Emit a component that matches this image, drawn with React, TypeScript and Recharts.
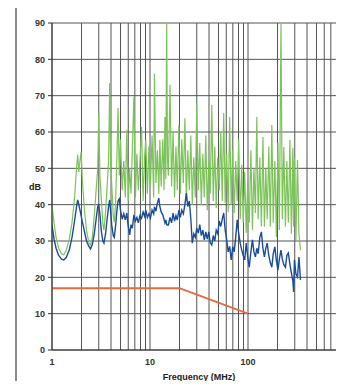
import { CartesianGrid, Line, LineChart, XAxis, YAxis } from "recharts"

// frequency points shared by both measured traces (MHz)
const freqMHz = [
  1.0, 1.05, 1.1, 1.17, 1.25, 1.32, 1.4, 1.5, 1.6, 1.7,
  1.78, 1.83, 1.88, 1.93, 1.98, 2.05, 2.15, 2.25, 2.38, 2.47,
  2.58, 2.7, 2.82, 2.93, 3.0, 3.08, 3.18, 3.3, 3.39, 3.52,
  3.65, 3.78, 3.88, 3.97, 4.08, 4.22, 4.32, 4.45, 4.58, 4.72, 4.86,
  5.0, 5.2, 5.4, 5.6, 5.8, 6.0, 6.2, 6.4, 6.6, 6.85,
  7.1, 7.35, 7.6, 7.9, 8.2, 8.5, 8.8, 9.05, 9.4, 9.75,
  10.1, 10.5, 10.9, 11.1, 11.5, 11.9, 12.3, 12.6, 13.0, 13.5,
  13.9, 14.2, 14.5, 14.8, 15.1,
  15.4, 16.0, 16.6, 17.2, 17.8, 18.4, 19.0, 19.7, 20.4, 21.1,
  21.9, 22.7, 23.5, 24.3, 25.2, 26.1, 27.0, 28.0, 29.0, 30.0,
  31.1, 32.2, 33.4, 34.6, 35.8, 37.1, 38.4, 39.8, 41.2, 42.7,
  44.2, 45.8, 47.4, 49.1, 50.9, 52.7, 54.6, 56.5, 58.5, 60.6,
  62.8, 65.0, 67.4, 69.8, 72.3, 74.9, 77.6, 80.4, 83.3, 86.3,
  89.4, 92.6, 95.9, 99.3,
  103, 107, 111, 115, 119, 123, 127, 132, 137, 142,
  147, 152, 157, 163, 169, 175, 181, 188, 195, 202,
  209, 217, 224, 232, 241, 249, 258, 268, 277, 287,
  292, 298, 308, 320, 331, 343,
]

const greenDb = [
  39.9, 35, 31, 28, 26.5, 26.2, 27.5, 30.5, 35, 42,
  50, 53.7, 49, 52, 54.5, 46, 38, 33, 29.5, 28.9,
  31, 37, 44, 50, 65.2, 48, 42, 35, 33, 38,
  45, 52, 73.5, 50, 45, 37, 35.2, 40, 52, 66.6, 48,
  58, 44, 52, 42, 60.6, 41, 50, 43, 55, 69.6,
  42, 54, 44, 52, 61.4, 41, 53, 57.8, 43, 56,
  45, 59, 42, 76, 46, 55, 43, 57.8, 45, 58,
  44, 64.1, 47, 90, 52,
  48, 73, 45, 60, 42, 56, 44, 62, 43, 58,
  46, 63.8, 41, 55, 44, 59, 40, 53, 42, 68,
  44, 57, 40, 54, 42, 59, 38.5, 52, 43, 67.4,
  41, 56, 39, 53, 44, 60, 41, 65.2, 40.5, 54,
  38, 64.1, 40, 55, 37.7, 52, 41, 58, 36, 51,
  35, 49, 32.2, 46,
  35, 55, 33, 50, 37.7, 64.1, 36, 53, 34, 58.6,
  33.9, 50, 36, 56, 34, 61.9, 35, 52, 31.1, 57,
  33, 90, 36, 55.9, 33.9, 52, 35, 57.8, 32, 55.6,
  34, 53, 30.3, 52.3, 32, 27.5,
]

const blueDb = [
  34.4, 30.5, 28, 26, 25, 24.8, 25.5, 27.5, 31, 35.5,
  39.5, 41.3, 40, 38.5, 37, 35, 32.5, 30, 28.5, 27.8,
  29, 32, 36, 39.5, 39.9, 37.5, 33, 30, 29.4, 32,
  36, 39.5, 41.3, 38, 34, 31.5, 31, 34, 38, 41, 41.6,
  38.5, 36, 37.5, 35.8, 37.7, 34, 31.7, 34.5, 33.5, 37.2,
  35.5, 36.5, 35, 37, 36.3, 38, 36.8, 38.5, 36.5, 37.5,
  36.3, 38.5, 37.5, 39.4, 38.2, 40.5, 41.8, 39.5, 38, 37.2,
  36, 35, 35.8, 34.5, 34.4,
  34.4, 36.5, 35, 37.7, 35.5, 37, 35.8, 38.5, 36.5, 38.5,
  37.5, 40, 43.2, 39.5, 41, 36, 29.4, 32, 31, 33.5,
  32.2, 34.5, 31.5, 33, 30.3, 32.5, 30.5, 32.5, 29.5, 28.9,
  31.5, 30, 33, 32, 35.5, 34, 36, 37.7, 33, 30.3,
  27, 28.5, 24.8, 28.4, 27, 31, 35.8, 32, 29.4, 27.5,
  26, 24.8, 29.4, 25.6,
  22.8, 27, 30.3, 27, 25.6, 28, 26.5, 31, 32.5, 28,
  25.6, 28, 29.4, 26, 24, 22.8, 26.5, 28.4, 24.5, 22,
  25, 27.5, 25, 23.5, 22.8, 26, 26.7, 23.5, 21.2, 19,
  16, 24.8, 21, 20.1, 25.6, 19.3,
]

// limit line corners
const limitFreqMHz = [1, 20, 100]
const limitDb = [17, 17, 10]

const gridFreqTicks = [
  1, 2, 3, 4, 5, 6, 7, 8, 9,
  10, 20, 30, 40, 50, 60, 70, 80, 90,
  100, 200, 300, 400, 500, 600, 700, 800, 900, 1000,
]
const labelledFreqs = [1, 10, 100, 1000]
const dbTicks = [0, 10, 20, 30, 40, 50, 60, 70, 80, 90]

const traceRows = freqMHz.map((f, i) => ({ f, green: greenDb[i], blue: blueDb[i] }))
const limitRows = limitFreqMHz.map((f, i) => ({ f, limit: limitDb[i] }))

const font = "'Liberation Sans', Arial, sans-serif"

export default function App() {
  return (
    <div
      style={{
        position: "relative",
        margin: -8,
        width: 344,
        height: 389,
        overflow: "hidden",
        background: "#fff",
        fontFamily: font,
      }}
    >
      <div
        style={{
          position: "absolute",
          left: 15,
          top: 3,
          width: 400,
          height: 440,
          border: "2px solid #8c8c8c",
        }}
      />
      <div style={{ position: "absolute", left: 0, top: 0 }}>
        <LineChart
          width={400}
          height={389}
          data={traceRows}
          margin={{ top: 23, right: 54, left: 12, bottom: 3 }}
        >
          <CartesianGrid stroke="#555" strokeWidth={1} />
          <XAxis
            dataKey="f"
            type="number"
            scale="log"
            domain={[1, 1000]}
            allowDataOverflow
            ticks={gridFreqTicks}
            interval={0}
            tickFormatter={(v) => (labelledFreqs.includes(v) ? String(v) : "")}
            height={36}
            axisLine={{ stroke: "#333" }}
            tickLine={false}
            tickMargin={3}
            tick={{ fontSize: 9, fontWeight: "bold", fill: "#333", fontFamily: font }}
            label={{
              value: "Frequency (MHz)",
              position: "insideBottom",
              offset: 6,
              style: { fontSize: 9, fontWeight: "bold", fill: "#222", fontFamily: font },
            }}
          />
          <YAxis
            type="number"
            domain={[0, 90]}
            ticks={dbTicks}
            interval={0}
            width={40}
            axisLine={{ stroke: "#333" }}
            tickLine={{ stroke: "#333" }}
            tickSize={4}
            tickMargin={3}
            tick={{ fontSize: 9, fontWeight: "bold", fill: "#333", fontFamily: font }}
            label={{
              value: "dB",
              position: "insideLeft",
              offset: 17,
              style: { fontSize: 9, fontWeight: "bold", fill: "#222", fontFamily: font },
            }}
          />
          <Line
            dataKey="green"
            stroke="#7cc35a"
            strokeWidth={1.2}
            dot={false}
            type="linear"
            isAnimationActive={false}
          />
          <Line
            dataKey="blue"
            stroke="#1a4c9e"
            strokeWidth={1.4}
            dot={false}
            type="linear"
            isAnimationActive={false}
          />
          <Line
            data={limitRows}
            dataKey="limit"
            stroke="#e8693e"
            strokeWidth={1.8}
            dot={false}
            type="linear"
            isAnimationActive={false}
          />
        </LineChart>
      </div>
    </div>
  )
}
